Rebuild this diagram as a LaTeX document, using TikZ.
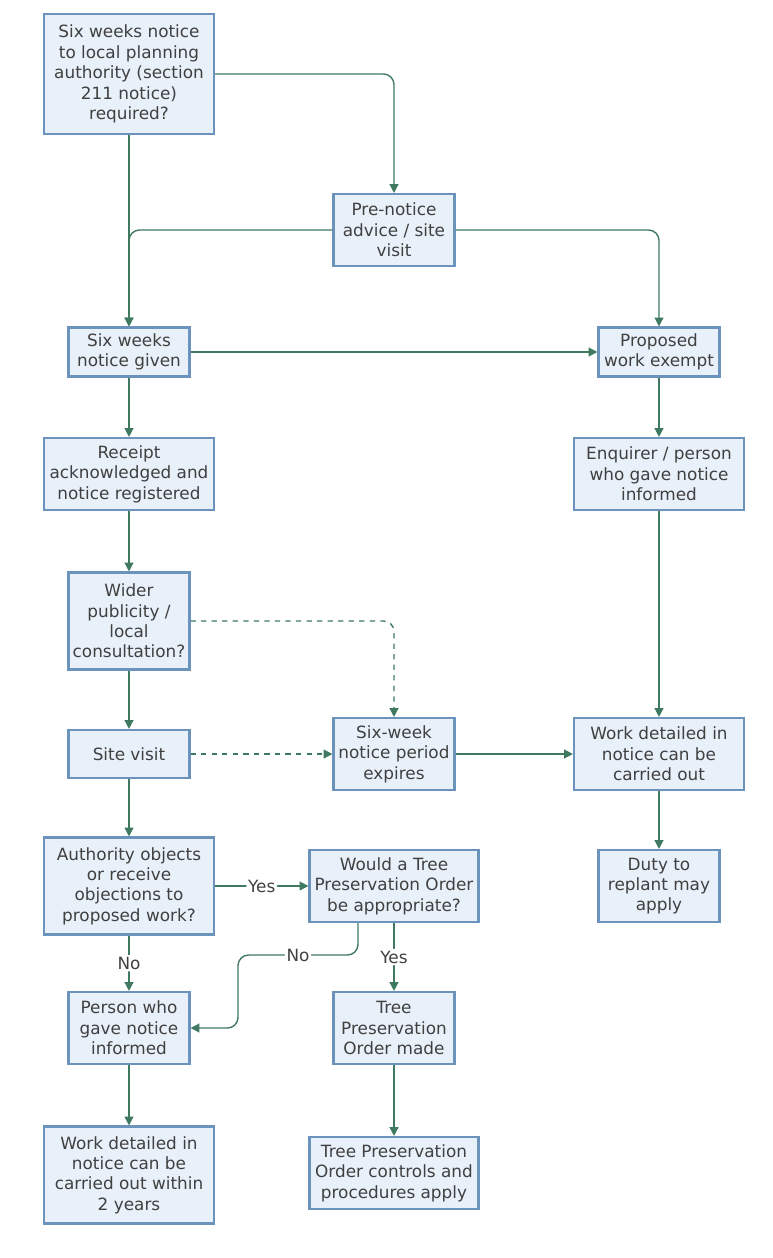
\documentclass[tikz,border=0pt]{standalone}
\usepackage{fontspec}
\setmainfont{DejaVu Sans}
\usetikzlibrary{arrows.meta}
\definecolor{boxfill}{HTML}{E8F0F9}
\definecolor{boxline}{HTML}{6C93BC}
\definecolor{flow}{HTML}{3F7A60}
\tikzset{
  stepbox/.style={draw=boxline, line width=1.2pt, fill=boxfill, align=center,
    inner sep=0pt, font=\fontsize{9.6}{11.6}\selectfont, text=black!75},
  flowline/.style={draw=flow, line width=0.8pt, rounded corners=6pt,
    -{Triangle[length=5pt,width=5pt]}},
  lbl/.style={fill=white, inner sep=1pt, font=\fontsize{9.6}{11.6}\selectfont, text=black!75}
}
\begin{document}
\begin{tikzpicture}[x=0.02cm, y=-0.02cm]
	\useasboundingbox (0,0) rectangle (772,1258);

	% boxes
	\node[stepbox, minimum width=170*0.02cm, minimum height=120*0.02cm] (notice) at (129,74) {Six weeks notice\\to local planning\\authority (section\\211 notice)\\required?};
	\node[stepbox, minimum width=121*0.02cm, minimum height=72*0.02cm] (advice) at (394,230) {Pre-notice\\advice / site\\visit};
	\node[stepbox, minimum width=121*0.02cm, minimum height=49*0.02cm] (given) at (129,352) {Six weeks\\notice given};
	\node[stepbox, minimum width=121*0.02cm, minimum height=49*0.02cm] (exempt) at (659,352) {Proposed\\work exempt};
	\node[stepbox, minimum width=170*0.02cm, minimum height=72*0.02cm] (receipt) at (129,474) {Receipt\\acknowledged and\\notice registered};
	\node[stepbox, minimum width=170*0.02cm, minimum height=72*0.02cm] (enquirer) at (659,474) {Enquirer / person\\who gave notice\\informed};
	\node[stepbox, minimum width=121*0.02cm, minimum height=97*0.02cm] (wider) at (129,621) {Wider\\publicity /\\local\\consultation?};
	\node[stepbox, minimum width=121*0.02cm, minimum height=48*0.02cm] (site) at (129,754) {Site visit};
	\node[stepbox, minimum width=121*0.02cm, minimum height=72*0.02cm] (expires) at (394,754) {Six-week\\notice period\\expires};
	\node[stepbox, minimum width=170*0.02cm, minimum height=72*0.02cm] (carried) at (659,754) {Work detailed in\\notice can be\\carried out};
	\node[stepbox, minimum width=170*0.02cm, minimum height=97*0.02cm] (objects) at (129,886) {Authority objects\\or receive\\objections to\\proposed work?};
	\node[stepbox, minimum width=169*0.02cm, minimum height=72*0.02cm] (tpo) at (394,886) {Would a Tree\\Preservation Order\\be appropriate?};
	\node[stepbox, minimum width=121*0.02cm, minimum height=72*0.02cm] (replant) at (659,886) {Duty to\\replant may\\apply};
	\node[stepbox, minimum width=121*0.02cm, minimum height=72*0.02cm] (person) at (129,1028) {Person who\\gave notice\\informed};
	\node[stepbox, minimum width=121*0.02cm, minimum height=72*0.02cm] (made) at (394,1028) {Tree\\Preservation\\Order made};
	\node[stepbox, minimum width=170*0.02cm, minimum height=97*0.02cm] (within) at (129,1175) {Work detailed in\\notice can be\\carried out within\\2 years};
	\node[stepbox, minimum width=169*0.02cm, minimum height=72*0.02cm] (controls) at (394,1173) {Tree Preservation\\Order controls and\\procedures apply};

	% connectors
	\draw[flowline] (notice.east |- 0,74) -| (advice.north);
	\draw[flowline] (notice) -- (given);
	\draw[flowline] (advice.west) -| (given.north);
	\draw[flowline] (advice.east) -| (exempt.north);
	\draw[flowline] (given) -- (exempt);
	\draw[flowline] (given) -- (receipt);
	\draw[flowline] (receipt) -- (wider);
	\draw[flowline] (wider) -- (site);
	\draw[flowline] (site) -- (objects);
	\draw[flowline] (exempt) -- (enquirer);
	\draw[flowline] (enquirer) -- (carried);
	\draw[flowline, dashed] (wider.east) -| (expires.north);
	\draw[flowline, dashed] (site) -- (expires);
	\draw[flowline] (expires) -- (carried);
	\draw[flowline] (carried) -- (replant);
	\draw[flowline] (objects) -- node[lbl] {Yes} (tpo);
	\draw[flowline] (objects) -- node[lbl] {No} (person);
	\draw[flowline] (tpo.south -| 358,0) |- (238,955) node[lbl, pos=0.75] {No} |- (person.east);
	\draw[flowline] (tpo) -- node[lbl] {Yes} (made);
	\draw[flowline] (person) -- (within);
	\draw[flowline] (made) -- (controls);
\end{tikzpicture}
\end{document}
